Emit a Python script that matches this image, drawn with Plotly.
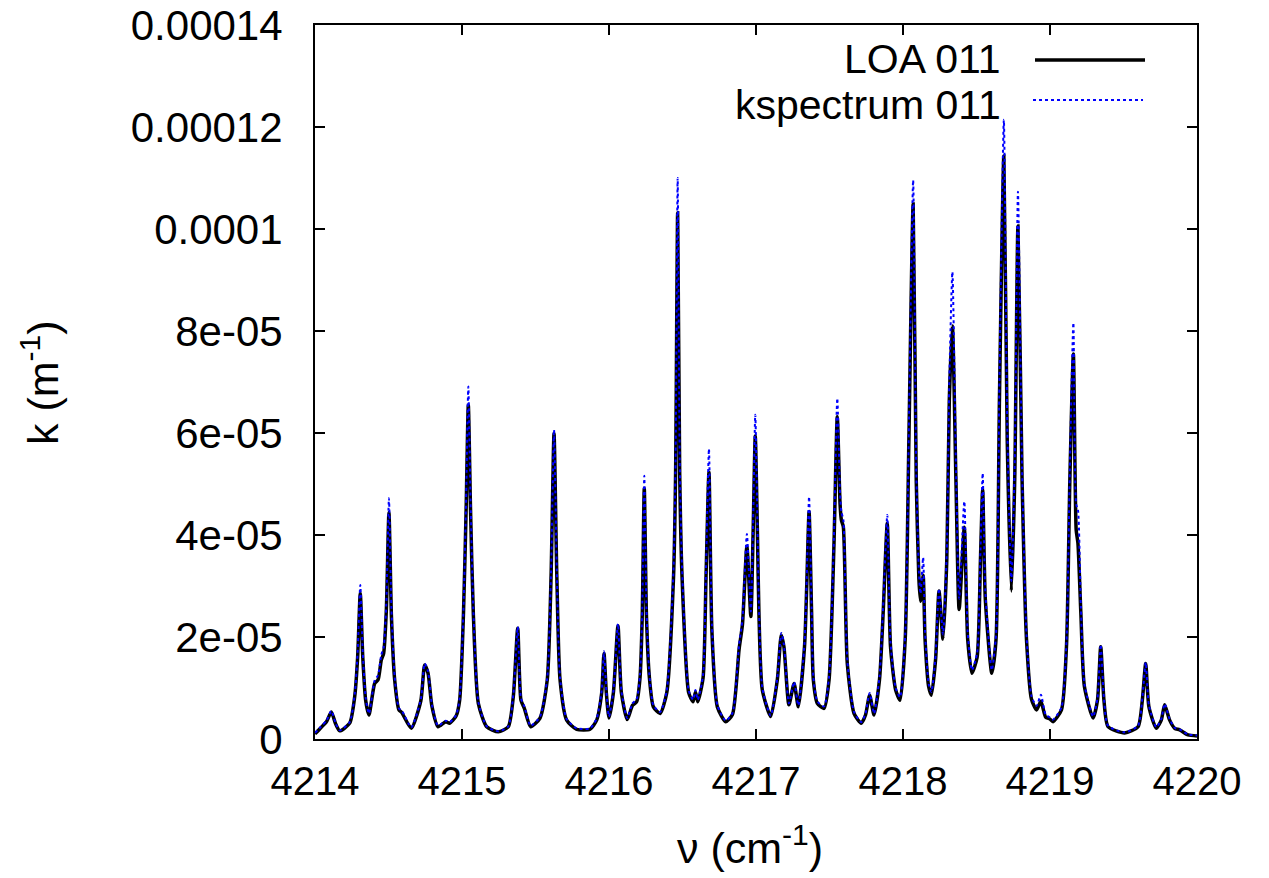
import plotly.graph_objects as go

# wavenumber (cm^-1)
nu = [
    4214.000, 4214.040, 4214.080, 4214.111, 4214.140, 4214.168, 4214.236, 4214.270, 4214.290, 4214.308,
    4214.325, 4214.345, 4214.367, 4214.406, 4214.429, 4214.451, 4214.467, 4214.485, 4214.503, 4214.520,
    4214.542, 4214.571, 4214.590, 4214.655, 4214.720, 4214.746, 4214.769, 4214.795, 4214.837, 4214.889,
    4214.916, 4214.960, 4214.984, 4215.010, 4215.028, 4215.043, 4215.058, 4215.077, 4215.111, 4215.168,
    4215.247, 4215.315, 4215.349, 4215.379, 4215.401, 4215.424, 4215.467, 4215.531, 4215.580, 4215.606,
    4215.626, 4215.645, 4215.667, 4215.712, 4215.780, 4215.871, 4215.916, 4215.950, 4215.966, 4215.982,
    4216.000, 4216.030, 4216.061, 4216.084, 4216.124, 4216.160, 4216.188, 4216.211, 4216.226, 4216.240,
    4216.255, 4216.275, 4216.302, 4216.348, 4216.393, 4216.439, 4216.453, 4216.467, 4216.481, 4216.497,
    4216.542, 4216.572, 4216.588, 4216.604, 4216.640, 4216.660, 4216.680, 4216.700, 4216.737, 4216.794,
    4216.840, 4216.885, 4216.908, 4216.938, 4216.965, 4216.980, 4216.995, 4217.010, 4217.020, 4217.043,
    4217.100, 4217.145, 4217.172, 4217.190, 4217.224, 4217.259, 4217.288, 4217.330, 4217.345, 4217.361,
    4217.378, 4217.390, 4217.417, 4217.463, 4217.497, 4217.530, 4217.553, 4217.572, 4217.581, 4217.594,
    4217.621, 4217.667, 4217.716, 4217.745, 4217.773, 4217.803, 4217.840, 4217.865, 4217.893, 4217.915,
    4217.950, 4217.980, 4218.015, 4218.040, 4218.069, 4218.090, 4218.108, 4218.119, 4218.137, 4218.150,
    4218.175, 4218.193, 4218.222, 4218.245, 4218.272, 4218.298, 4218.315, 4218.336, 4218.360, 4218.382,
    4218.417, 4218.440, 4218.469, 4218.504, 4218.527, 4218.542, 4218.560, 4218.604, 4218.633, 4218.656,
    4218.686, 4218.709, 4218.737, 4218.760, 4218.782, 4218.810, 4218.840, 4218.874, 4218.909, 4218.938,
    4218.970, 4219.000, 4219.020, 4219.078, 4219.112, 4219.135, 4219.159, 4219.178, 4219.190, 4219.210,
    4219.234, 4219.293, 4219.323, 4219.345, 4219.367, 4219.395, 4219.508, 4219.599, 4219.628, 4219.651,
    4219.673, 4219.723, 4219.757, 4219.780, 4219.814, 4219.848, 4219.882, 4219.939, 4220.000,
]

# absorption coefficient, in units of 1e-5 m^-1
k_loa_e5 = [
    0.10, 0.22, 0.35, 0.53, 0.30, 0.16, 0.31, 0.83, 1.60, 2.86,
    1.60, 0.75, 0.47, 1.09, 1.16, 1.55, 1.68, 2.50, 4.44, 2.40,
    1.16, 0.57, 0.52, 0.21, 0.75, 1.45, 1.29, 0.65, 0.24, 0.34,
    0.31, 0.45, 0.76, 2.46, 4.50, 6.55, 4.50, 2.46, 0.70, 0.24,
    0.14, 0.24, 0.83, 2.17, 0.76, 0.60, 0.24, 0.41, 1.16, 3.20,
    5.99, 3.20, 1.16, 0.37, 0.19, 0.19, 0.37, 0.90, 1.68, 0.90,
    0.41, 0.91, 2.22, 0.91, 0.38, 0.66, 0.73, 1.20, 2.40, 4.91,
    2.40, 1.20, 0.63, 0.50, 0.91, 3.18, 5.20, 10.32, 5.20, 3.18,
    0.91, 0.73, 0.92, 0.73, 1.20, 3.18, 5.23, 2.12, 0.63, 0.34,
    0.48, 1.76, 2.25, 3.78, 2.40, 4.00, 5.94, 4.00, 2.46, 0.96,
    0.44, 1.16, 2.04, 1.81, 0.67, 1.09, 0.63, 1.81, 3.00, 4.46,
    2.50, 1.16, 0.70, 0.60, 1.16, 3.77, 6.32, 4.60, 4.29, 4.16,
    1.48, 0.50, 0.31, 0.47, 0.86, 0.47, 1.16, 2.47, 4.23, 1.81,
    0.96, 0.76, 1.96, 5.87, 10.49, 5.09, 3.14, 2.70, 3.21, 1.96,
    1.02, 0.86, 1.57, 2.90, 1.96, 3.53, 6.65, 8.10, 5.09, 2.54,
    4.15, 1.96, 1.29, 1.60, 3.53, 4.89, 2.74, 1.29, 1.96, 6.65,
    11.43, 5.87, 2.90, 5.09, 10.06, 5.09, 1.96, 0.78, 0.57, 0.74,
    0.43, 0.39, 0.34, 0.57, 1.81, 5.08, 7.55, 4.10, 3.84, 2.46,
    1.03, 0.41, 0.76, 1.81, 0.76, 0.24, 0.12, 0.24, 0.76, 1.48,
    0.63, 0.21, 0.37, 0.67, 0.37, 0.21, 0.18, 0.08, 0.06,
]

k_ksp_e5 = [
    0.12, 0.24, 0.37, 0.55, 0.31, 0.17, 0.33, 0.87, 1.70, 3.02,
    1.70, 0.80, 0.50, 1.15, 1.25, 1.65, 1.80, 2.65, 4.72, 2.55,
    1.22, 0.60, 0.56, 0.23, 0.78, 1.48, 1.33, 0.68, 0.26, 0.36,
    0.33, 0.47, 0.80, 2.55, 4.70, 6.91, 4.70, 2.55, 0.73, 0.25,
    0.15, 0.25, 0.87, 2.20, 0.80, 0.64, 0.26, 0.44, 1.20, 3.30,
    6.06, 3.30, 1.20, 0.39, 0.21, 0.21, 0.40, 0.95, 1.72, 0.95,
    0.44, 0.95, 2.26, 0.95, 0.41, 0.70, 0.78, 1.26, 2.55, 5.16,
    2.55, 1.25, 0.66, 0.53, 0.95, 3.35, 5.50, 11.00, 5.50, 3.35,
    0.95, 0.77, 0.96, 0.77, 1.26, 3.35, 5.69, 2.25, 0.66, 0.36,
    0.51, 1.85, 2.35, 4.02, 2.50, 4.20, 6.36, 4.20, 2.60, 1.00,
    0.46, 1.20, 2.08, 1.85, 0.70, 1.12, 0.66, 1.88, 3.15, 4.75,
    2.60, 1.22, 0.74, 0.64, 1.22, 3.95, 6.68, 4.80, 4.45, 4.30,
    1.55, 0.53, 0.33, 0.50, 0.90, 0.50, 1.22, 2.60, 4.39, 1.90,
    1.00, 0.82, 2.05, 6.10, 10.96, 5.30, 3.30, 2.85, 3.56, 2.10,
    1.08, 0.92, 1.65, 2.95, 2.05, 3.70, 7.00, 9.16, 5.40, 2.75,
    4.66, 2.10, 1.35, 1.68, 3.70, 5.21, 2.90, 1.35, 2.05, 7.00,
    12.14, 6.20, 3.10, 5.40, 10.73, 5.30, 2.05, 0.84, 0.65, 0.87,
    0.48, 0.42, 0.38, 0.62, 1.90, 5.30, 8.16, 4.60, 4.50, 2.60,
    1.08, 0.44, 0.80, 1.85, 0.80, 0.26, 0.13, 0.26, 0.80, 1.50,
    0.66, 0.23, 0.39, 0.69, 0.39, 0.22, 0.19, 0.09, 0.07,
]

x_ticks = [4214, 4215, 4216, 4217, 4218, 4219, 4220]
y_tick_vals = [0, 2e-5, 4e-5, 6e-5, 8e-5, 1e-4, 1.2e-4, 1.4e-4]
y_tick_text = ["0", "2e-05", "4e-05", "6e-05", "8e-05", "0.0001", "0.00012", "0.00014"]
series_names = ["LOA 011", "kspectrum 011"]

k_loa = [v * 1e-5 for v in k_loa_e5]
k_ksp = [v * 1e-5 for v in k_ksp_e5]

FONT = "Liberation Sans, Arial, Helvetica, sans-serif"
FS = 43
FS_LEG = 41

fig = go.Figure()
fig.add_trace(go.Scatter(x=nu, y=k_loa, mode="lines", name=series_names[0],
                         line=dict(color="black", width=3.5, shape="spline", smoothing=0.6)))
fig.add_trace(go.Scatter(x=nu, y=k_ksp, mode="lines", name=series_names[1],
                         line=dict(color="#0000ff", width=2, dash="dot", shape="spline", smoothing=0.6)))

axis_common = dict(showline=True, linecolor="black", linewidth=2, mirror="ticks",
                   ticks="inside", ticklen=10, tickwidth=1.5, tickcolor="black",
                   showgrid=False, zeroline=False)

fig.update_xaxes(range=[4214, 4220], tickvals=x_ticks, ticktext=[str(t) for t in x_ticks],
                 ticklabelstandoff=6, tickfont=dict(family=FONT, size=40, color="black"),
                 **axis_common)
fig.update_yaxes(range=[0, 1.4e-4], tickvals=y_tick_vals, ticktext=y_tick_text,
                 ticklabelstandoff=22, tickfont=dict(family=FONT, size=42, color="black"),
                 **axis_common)

# plot area in page pixels: x 315..1197, y 25..739
def px(x):
    return (x - 315) / 882

def py(y):
    return (739 - y) / 714

ann = [
    dict(text="ν (cm<sup>-1</sup>)", x=px(750), y=py(845), size=FS),
    dict(text="k (m<sup>-1</sup>)", x=px(40), y=py(383), textangle=-90, size=FS),
    dict(text=series_names[0], x=px(1003), y=py(59), xanchor="right", size=FS_LEG),
    dict(text=series_names[1], x=px(1003), y=py(105), xanchor="right", size=FS_LEG),
]
for a in ann:
    a.setdefault("xanchor", "center")
    size = a.pop("size")
    fig.add_annotation(xref="paper", yref="paper", showarrow=False, yanchor="middle",
                       font=dict(family=FONT, size=size, color="black"), **a)

fig.add_shape(type="line", xref="paper", yref="paper",
              x0=px(1035), x1=px(1145), y0=py(60), y1=py(60),
              line=dict(color="black", width=3.5))
fig.add_shape(type="line", xref="paper", yref="paper",
              x0=px(1033), x1=px(1143), y0=py(100), y1=py(100),
              line=dict(color="#0000ff", width=2, dash="dot"))

fig.update_layout(width=1269, height=878, showlegend=False,
                  margin=dict(l=315, r=72, t=25, b=139, autoexpand=False),
                  paper_bgcolor="white", plot_bgcolor="white",
                  font=dict(family=FONT, size=FS, color="black"))

# remove the page's default body margin so the figure sits at the window's corner
fig.write_html("out.html", config={"displayModeBar": False},
               post_script="document.body.style.margin='0';")
